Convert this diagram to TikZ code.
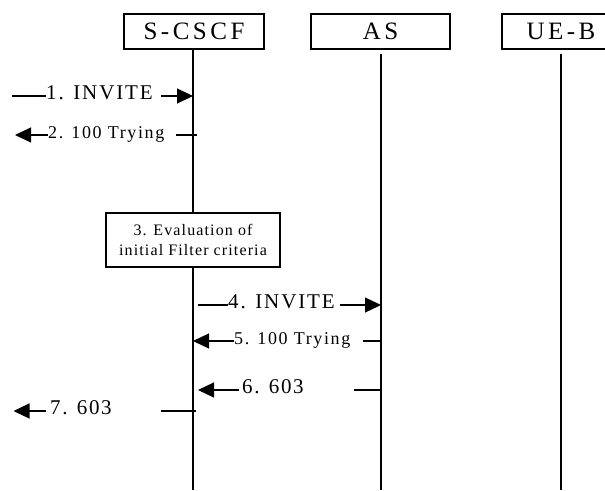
\documentclass[tikz,border=0pt]{standalone}
\usepackage{fontspec}
\setmainfont{Liberation Serif}
\newfontfamily\boxfont[LetterSpace=14]{Liberation Serif}
\newfontfamily\bigfont[LetterSpace=9]{Liberation Serif}
\newfontfamily\numfont[LetterSpace=8]{Liberation Serif}
\newfontfamily\smallfont[LetterSpace=9]{Liberation Serif}
\newfontfamily\evalfont[LetterSpace=7]{Liberation Serif}
\usetikzlibrary{arrows.meta}
\begin{document}
\begin{tikzpicture}[x=1pt,y=-1pt,
  ent/.style={draw, line width=1.3pt, minimum height=35pt, inner sep=0pt,
    font=\boxfont\fontsize{25}{29}\selectfont},
  life/.style={line width=1.2pt},
  msg/.style={line width=1.2pt},
  arr/.style={msg, -{Triangle[length=16pt,width=15pt]}},
  lbl/.style={anchor=west, inner sep=0pt, text height=0.66em, text depth=0pt},
  big/.style={lbl, font=\bigfont\fontsize{21}{24}\selectfont},
  num/.style={lbl, font=\numfont\fontsize{21}{24}\selectfont},
  small/.style={lbl, font=\smallfont\fontsize{18}{21}\selectfont},
  evalbox/.style={draw, line width=1.3pt, fill=white, align=center, inner sep=0pt,
    font=\evalfont\fontsize{16}{20}\selectfont}]
\useasboundingbox (0,0) rectangle (605,490);
\fill[white] (0,0) rectangle (605,490);
% entities
\begin{scope}
\clip (0,0) rectangle (605,490);
\node[ent, minimum width=140pt] (scscf) at (194,31.5) {S-CSCF};
\node[ent, minimum width=139pt] (as) at (380.5,31.5) {AS};
\node[ent, minimum width=118pt] (ueb) at (561,31.5) {UE-B};
\end{scope}
% lifeline x and row y
\coordinate (L1) at (193,0);
\coordinate (L2) at (381,0);
\coordinate (L3) at (561,0);
\coordinate (bot) at (0,490);
\draw[life] (L1 |- scscf.south) -- (L1 |- bot);
\draw[life] ([yshift=-4pt]as.south -| L2) -- (L2 |- bot);
\draw[life] ([yshift=-4pt]ueb.south -| L3) -- (L3 |- bot);
\coordinate (r1) at (0,96);
\coordinate (r2) at (0,135);
\coordinate (r4) at (0,305);
\coordinate (r5) at (0,341);
\coordinate (r6) at (0,390);
\coordinate (r7) at (0,411);
% 1. INVITE
\coordinate (a1) at (12,96);
\node[big] (m1) at (46,96) {1. INVITE};
\draw[msg] (a1) -- (m1.west);
\draw[arr] (161,96) -- (L1 |- r1);
% 2. 100 Trying
\coordinate (a2) at (15,135);
\node[small] (m2) at (48,135) {2. 100 Trying};
\draw[arr] (m2.west) -- (a2);
\draw[msg] (176,135) -- (197,135);
% 3. evaluation
\node[evalbox, minimum width=174pt, minimum height=54pt] (ev) at (193,240)
  {3. Evaluation of\\initial Filter criteria};
% 4. INVITE
\node[big] (m4) at (228,305) {4. INVITE};
\draw[msg] (198,305) -- (m4.west);
\draw[arr] (340,305) -- (L2 |- r4);
% 5. 100 Trying
\node[small] (m5) at (234,341) {5. 100 Trying};
\draw[arr] (m5.west) -- (L1 |- r5);
\draw[msg] (363,341) -- (382,341);
% 6. 603
\node[num] (m6) at (242,390) {6. 603};
\coordinate (a6) at (198,390);
\draw[arr] (239,390) -- (a6);
\draw[msg] (354,390) -- (L2 |- r6);
% 7. 603
\node[num] (m7) at (50,411) {7. 603};
\coordinate (a7) at (13.5,411);
\draw[arr] (46,411) -- (a7);
\draw[msg] (161,411) -- (196,411);
\end{tikzpicture}
\end{document}
